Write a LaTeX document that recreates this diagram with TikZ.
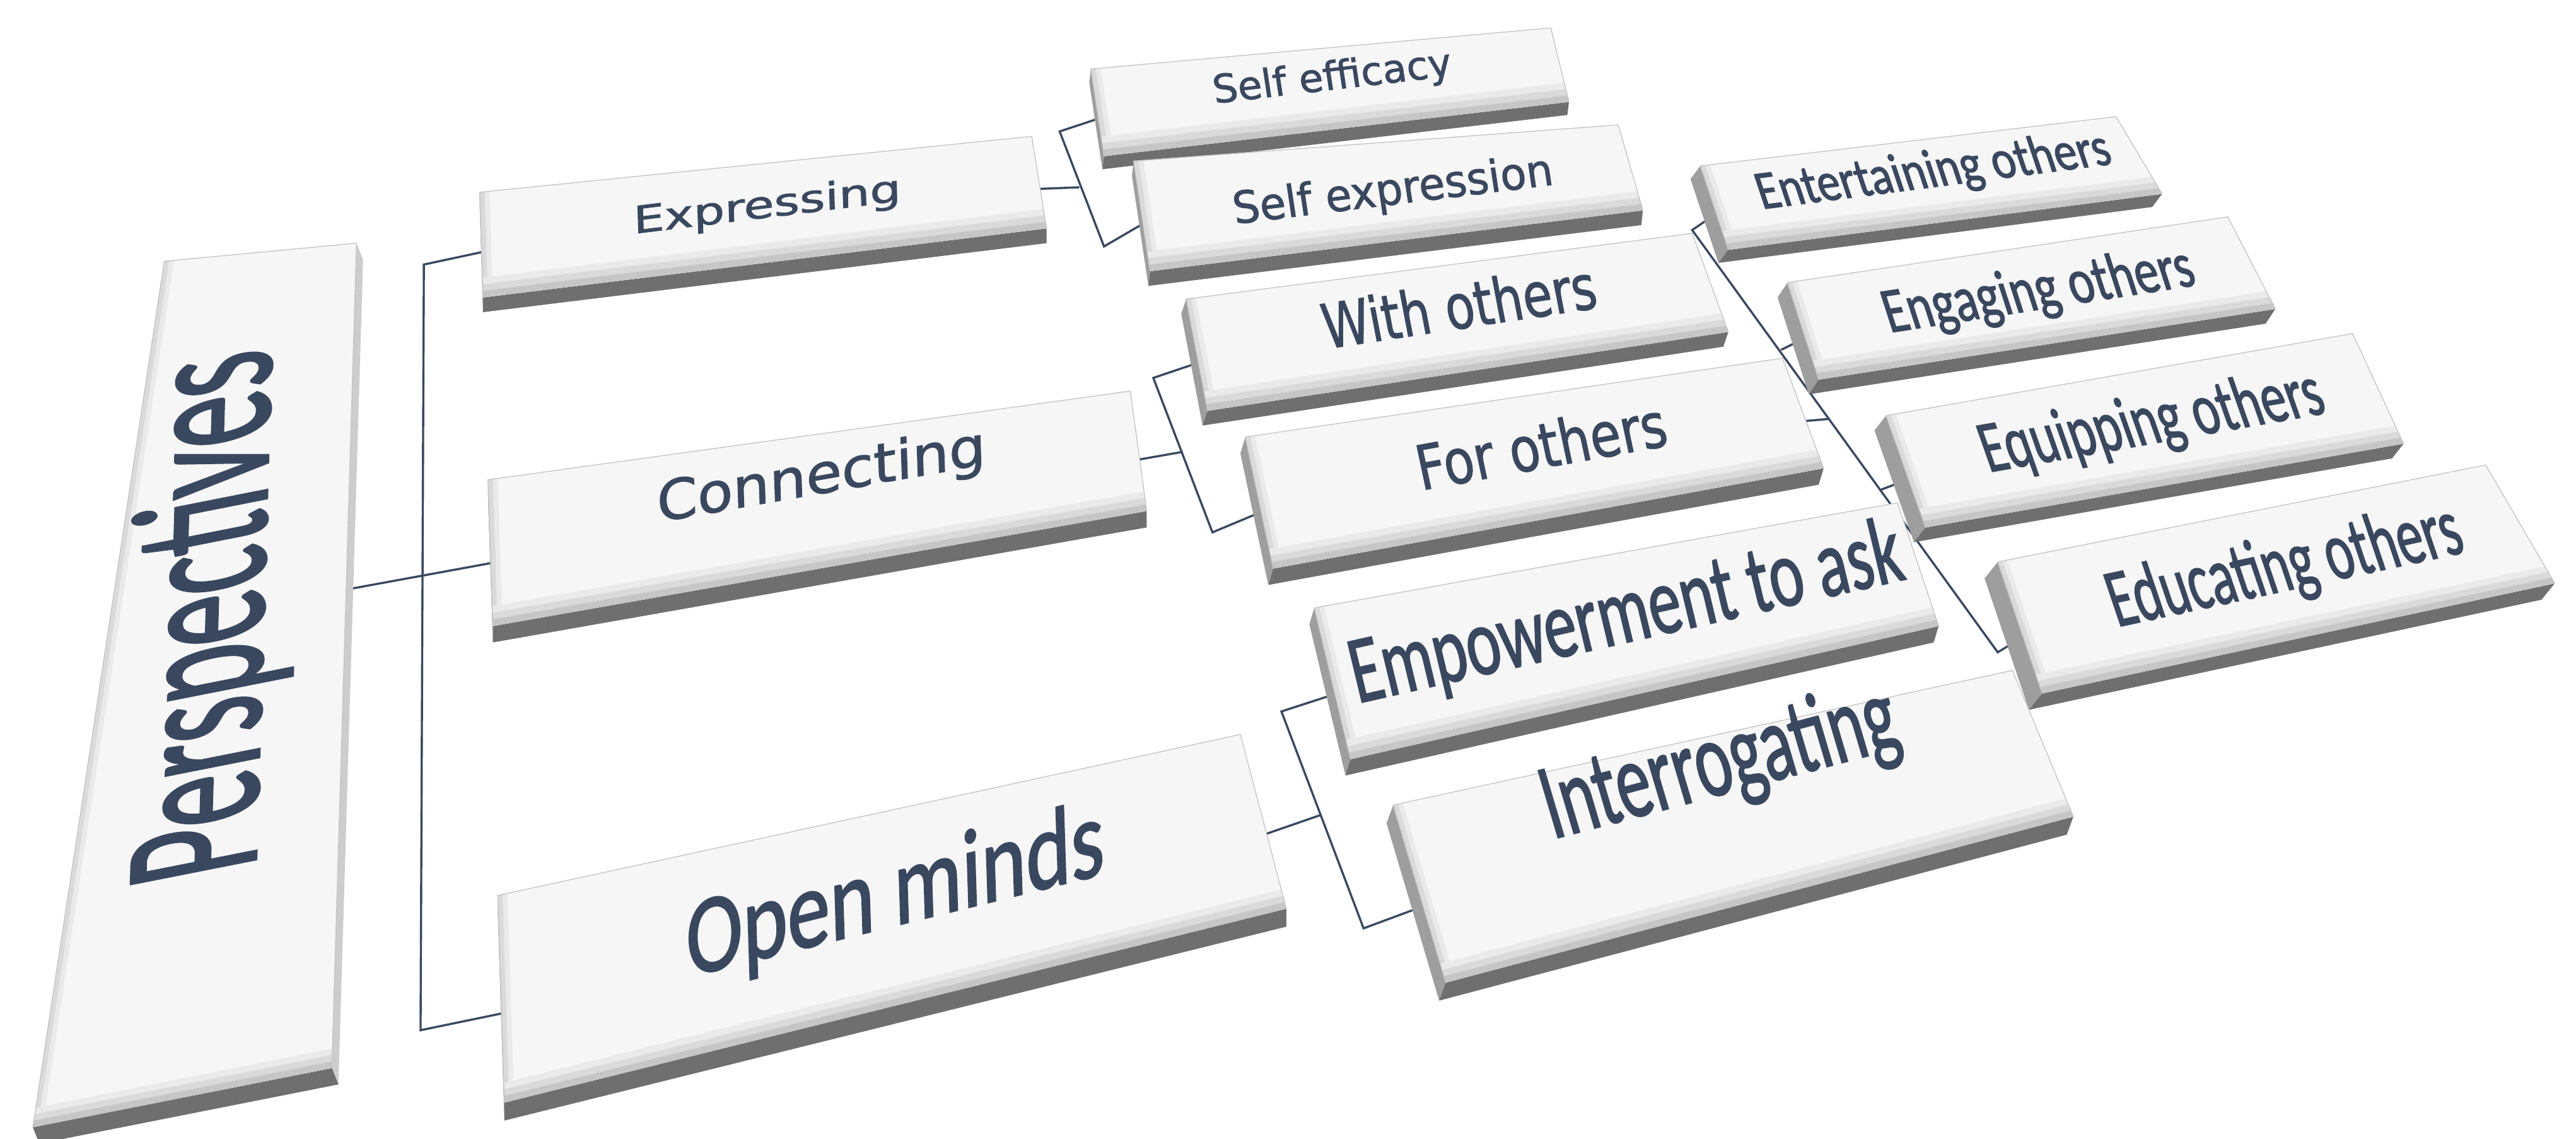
\documentclass[tikz,border=0pt]{standalone}
\usepackage{fontspec}
\setmainfont{Carlito}[FakeBold=1.6]
\newfontfamily\widefont{DejaVu Sans}[FakeBold=1.4]
\usepackage{graphicx}
\usetikzlibrary{calc}

\definecolor{ink}{HTML}{3A485F}
\definecolor{facegrey}{HTML}{F6F6F6}
\definecolor{rimgrey}{HTML}{C4C4C4}
\definecolor{bevelA}{HTML}{EAEAEA}
\definecolor{bevelB}{HTML}{DADADA}
\definecolor{bevelC}{HTML}{C6C6C6}
\definecolor{frontgrey}{HTML}{6F6F6F}
\definecolor{leftgrey}{HTML}{9E9E9E}
\definecolor{rightgrey}{HTML}{CDCDCD}

\pgfdeclarelayer{wires}
\pgfsetlayers{wires,main}

% a raised tile: name, corners of the top face (tl,tr,br,bl), drop of the edge
\newcommand{\slabbox}[6]{%
  \coordinate (#1-tl) at #2;
  \coordinate (#1-tr) at #3;
  \coordinate (#1-br) at #4;
  \coordinate (#1-bl) at #5;
  \coordinate (#1-tld) at ($(#1-tl)+#6$);
  \coordinate (#1-trd) at ($(#1-tr)+#6$);
  \coordinate (#1-brd) at ($(#1-br)+#6$);
  \coordinate (#1-bld) at ($(#1-bl)+#6$);
  \fill[leftgrey] (#1-tl) -- (#1-bl) -- (#1-bld) -- (#1-tld) -- cycle;
  \fill[rightgrey] (#1-tr) -- (#1-br) -- (#1-brd) -- (#1-trd) -- cycle;
  \fill[frontgrey] (#1-bl) -- (#1-br) -- (#1-brd) -- (#1-bld) -- cycle;
  \fill[facegrey] (#1-tl) -- (#1-tr) -- (#1-br) -- (#1-bl) -- cycle;
  % bevel on the left and lower edges
  \foreach \d/\c in {6pt/bevelA,3pt/bevelB}
    \fill[fill=\c] (#1-tl) -- (#1-bl) -- ($(#1-bl)!\d!(#1-br)$) -- ($(#1-tl)!\d!(#1-tr)$) -- cycle;
  \foreach \d/\c in {12pt/bevelA,8pt/bevelB,4pt/bevelC}
    \fill[fill=\c] (#1-bl) -- (#1-br) -- ($(#1-br)!\d!(#1-tr)$) -- ($(#1-bl)!\d!(#1-tl)$) -- cycle;
  \draw[rimgrey, line width=0.5pt] (#1-bl) -- (#1-tl) -- (#1-tr) -- (#1-br);
  \coordinate (#1-in) at ($(#1-tl)!0.57!(#1-bl)$);
  \coordinate (#1-out) at ($(#1-tr)!0.57!(#1-br)$);
}

% text laid on a tile, following its lower and left edges
\newcommand{\slablabel}[4]{%
  \path let \p1=(#2-bl), \p2=(#2-br), \p3=(#2-tl),
    \n1={atan2(\y2-\y1,\x2-\x1)}, \n2={atan2(\y3-\y1,\x3-\x1)} in
    node[caption, rotate=\n1, xslant={cot(\n2-\n1)}] (#1) at #3 {#4};%
}
\newcommand{\fitto}[3]{\resizebox*{#1pt}{#2pt}{#3}}

\begin{document}
\begin{tikzpicture}[x=1pt,y=-1pt]
\tikzstyle{caption}=[text=ink, inner sep=0pt]
\tikzstyle{link}=[draw=ink, line width=1.3pt]
\useasboundingbox (0,0) rectangle (1568,693);

% tiles, back rows first
\slabbox{seff}{(664,42)}{(944,17)}{(955,62)}{(672,95)}{(-1,8)}
\slabbox{ent}{(1035,101)}{(1288,71)}{(1316,118)}{(1052,152)}{(-6,8)}
\slabbox{expr}{(292,117)}{(628,83)}{(637,139)}{(294,181)}{(0,9)}
\slabbox{sexp}{(690,98)}{(985,76)}{(1000,128)}{(700,165)}{(-1,9)}
\slabbox{pers}{(100,159)}{(217,148)}{(202,650)}{(20,686)}{(4,10)}
\slabbox{eng}{(1088,172)}{(1356,132)}{(1385,188)}{(1107,231)}{(-6,9)}
\slabbox{with}{(722,182)}{(1030,142)}{(1052,202)}{(735,250)}{(-3,9)}
\slabbox{equ}{(1148,253)}{(1432,203)}{(1463,270)}{(1172,321)}{(-7,9)}
\slabbox{fore}{(758,266)}{(1085,218)}{(1110,285)}{(775,346)}{(-3,10)}
\slabbox{conn}{(297,292)}{(688,238)}{(698,311)}{(300,381)}{(0,10)}
\slabbox{edu}{(1216,342)}{(1513,283)}{(1555,355)}{(1243,422)}{(-8,10)}
\slabbox{empw}{(800,370)}{(1155,306)}{(1180,381)}{(822,462)}{(-3,10)}
\slabbox{intr}{(848,490)}{(1225,408)}{(1262,497)}{(880,598)}{(-4,11)}
\slabbox{open}{(303,545)}{(755,447)}{(783,553)}{(307,671)}{(0,11)}
\coordinate (pers-out) at ($(pers-tr)!0.42!(pers-br)$);

% the root tile reads upwards
\coordinate (up-bl) at (pers-br);
\coordinate (up-br) at (pers-tr);
\coordinate (up-tl) at (pers-bl);

% labels
\slablabel{perspectives}{up}{(129,375)}{\fitto{318}{100}{Perspectives}}
\slablabel{expressing}{expr}{(467,126)}{\fitto{164}{22}{\widefont Expressing}}
\slablabel{connecting}{conn}{(500,291)}{\fitto{203}{32}{\widefont Connecting}}
\slablabel{openminds}{open}{(545,545)}{\fitto{262}{57}{Open minds}}
\slablabel{selfefficacy}{seff}{(811,48)}{\fitto{146}{23}{\widefont Self efficacy}}
\slablabel{selfexpression}{sexp}{(848,117)}{\fitto{196}{26}{\widefont Self expression}}
\slablabel{withothers}{with}{(888,186)}{\fitto{168}{29}{\widefont With others}}
\slablabel{forothers}{fore}{(938,271)}{\fitto{154}{29}{\widefont For others}}
\slablabel{empowerment}{empw}{(990,375)}{\fitto{343}{50}{Empowerment to ask}}
\slablabel{interrogating}{intr}{(1047,466)}{\fitto{221}{57}{Interrogating}}
\slablabel{entertaining}{ent}{(1177,105)}{\fitto{216}{29}{Entertaining others}}
\slablabel{engaging}{eng}{(1241,178)}{\fitto{190}{34}{Engaging others}}
\slablabel{equipping}{equ}{(1310,258)}{\fitto{210}{39}{Equipping others}}
\slablabel{educating}{edu}{(1391,346)}{\fitto{218}{44}{Educating others}}

% connectors, kept under the tiles
\begin{pgfonlayer}{wires}
\coordinate (trunk-top) at (258,161);
\coordinate (trunk-bot) at (256,627);
\draw[link] (expr-in) -- (trunk-top) -- (trunk-bot) -- (open-in);
\draw[link] (pers-out) -- (conn-in);

\coordinate (b1-top) at (645,80);
\coordinate (b1-bot) at (672,150);
\coordinate (b1-mid) at (657,114);
\draw[link] (seff-in) -- (b1-top) -- (b1-bot) -- (sexp-in);
\draw[link] (expr-out) -- (b1-mid);

\coordinate (b2-top) at (702,230);
\coordinate (b2-bot) at (738,324);
\coordinate (b2-mid) at (720,275);
\draw[link] (with-in) -- (b2-top) -- (b2-bot) -- (fore-in);
\draw[link] (conn-out) -- (b2-mid);

\coordinate (b3-top) at (780,433);
\coordinate (b3-bot) at (830,565);
\coordinate (b3-mid) at (804,496);
\draw[link] (empw-in) -- (b3-top) -- (b3-bot) -- (intr-in);
\draw[link] (open-out) -- (b3-mid);

\coordinate (b4-top) at (1030,140);
\coordinate (b4-bot) at (1216,397);
\coordinate (b4-eng) at (1084,213);
\coordinate (b4-mid) at (1113,255);
\coordinate (b4-equ) at (1145,298);
\draw[link] (ent-in) -- (b4-top) -- (b4-bot) -- (edu-in);
\draw[link] (fore-out) -- (b4-mid);
\draw[link] (b4-eng) -- (eng-in);
\draw[link] (b4-equ) -- (equ-in);
\end{pgfonlayer}
\end{tikzpicture}
\end{document}
